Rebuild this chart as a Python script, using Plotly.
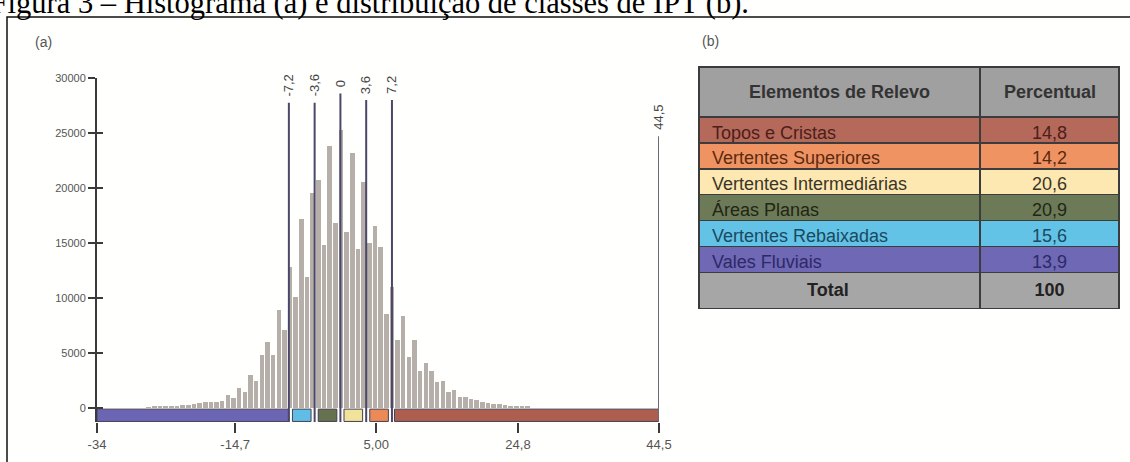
import plotly.graph_objects as go

W, H = 1130, 462

# ---------------- data ----------------
bin_first = -26.78      # centre of first histogram bin
bin_width = 0.79
counts = [50, 70, 90, 110, 140, 180, 220, 280, 330, 400, 480, 520, 560, 640,
          1200, 900, 1800, 1400, 3000, 2400, 4800, 6000, 4800, 8900, 7100,
          12800, 10100, 17200, 11900, 19500, 20700, 14800, 23800, 16800,
          25300, 16000, 23200, 14400, 20500, 15000, 16500, 14600, 8500, 11000,
          6200, 8300, 4600, 6200, 3300, 4100, 3300, 2300, 2400, 1450, 1600,
          1000, 1000, 800, 700, 550, 450, 350, 300, 270, 200, 150, 100, 70]

class_breaks = [-34, -7.2, -3.6, 0, 3.6, 7.2, 44.5]
class_names = ["Vales Fluviais", "Vertentes Rebaixadas", "Áreas Planas",
               "Vertentes Intermediárias", "Vertentes Superiores", "Topos e Cristas"]
class_colors = ["#6b65b3", "#5fbde6", "#65714f", "#f1e39c", "#ec8a57", "#ad5e4e"]

break_lines = [-7.2, -3.6, 0, 3.6, 7.2]
break_labels = ["-7,2", "-3,6", "0", "3,6", "7,2"]
break_tops = [27750, 27750, 28600, 28000, 28000]
max_line_x = 44.5
max_line_top = 24700
max_line_label = "44,5"

y_ticks = [0, 5000, 10000, 15000, 20000, 25000, 30000]
x_ticks = [-34, -14.7, 5.0, 24.8, 44.5]
x_tick_labels = ["-34", "-14,7", "5,00", "24,8", "44,5"]

table_header = ["Elementos de Relevo", "Percentual"]
table_names = ["Topos e Cristas", "Vertentes Superiores", "Vertentes Intermediárias",
               "Áreas Planas", "Vertentes Rebaixadas", "Vales Fluviais"]
table_percent = [14.8, 14.2, 20.6, 20.9, 15.6, 13.9]
table_total = 100
table_colors = ["#b5695b", "#f09363", "#fce8b0", "#6d7a57", "#62c3e6", "#6e68b5"]
table_text_colors = ["#4a2018", "#5a2a10", "#3a3528", "#1f2614", "#1c4860", "#2e2866"]

caption = "Figura 3 – Histograma (a) e distribuição de classes de IPT (b)."

# ---------------- helpers ----------------
def px_x(p):
    return p / W

def px_y(p):
    return 1 - p / H

FONT = "Arial, Liberation Sans, sans-serif"
AX = "#3a3a3a"

x_centers = [bin_first + i * bin_width for i in range(len(counts))]

fig = go.Figure()

fig.add_trace(go.Bar(
    x=x_centers, y=counts, width=bin_width * 0.8,
    marker=dict(color="#b6aea9", line=dict(width=0)),
    hoverinfo="x+y", showlegend=False,
))

# invisible trace for overlay axis (inside ticks)
fig.add_trace(go.Scatter(x=[-34], y=[0], yaxis="y2", mode="markers",
                         marker=dict(opacity=0), showlegend=False, hoverinfo="skip"))

# class band below the histogram
for i, col in enumerate(class_colors):
    x0, x1 = class_breaks[i], class_breaks[i + 1]
    if i == 0:
        a, b = x0, x1
    elif i == len(class_colors) - 1:
        a, b = x0 + 0.35, x1
    else:
        a, b = x0 + 0.5, x1 - 0.5
    fig.add_shape(type="rect", xref="x", yref="y", x0=a, x1=b, y0=-1250, y1=-130,
                  fillcolor=col, line=dict(color="#45414f", width=1), layer="above")

# break lines
for xv, top, lab in zip(break_lines, break_tops, break_labels):
    fig.add_shape(type="line", xref="x", yref="y", x0=xv, x1=xv, y0=-1300, y1=top,
                  line=dict(color="#4b4768", width=2), layer="above")
    fig.add_annotation(x=xv, y=top, xref="x", yref="y", text=lab, textangle=-90,
                       showarrow=False, yanchor="bottom", xanchor="center", yshift=4,
                       font=dict(family=FONT, size=13, color="#444"))

fig.add_shape(type="line", xref="x", yref="y", x0=max_line_x, x1=max_line_x,
              y0=-1300, y1=max_line_top, line=dict(color="#6e6a74", width=2), layer="above")
fig.add_annotation(x=max_line_x, y=max_line_top, xref="x", yref="y", text=max_line_label,
                   textangle=-90, showarrow=False, yanchor="bottom", xanchor="center",
                   yshift=4, font=dict(family=FONT, size=13, color="#444"))

# table (b)
tx0, tx1, t_top, head_h = 699, 1119, 67, 50
col_w = [281, 139]
fmt = [f"{v:.1f}".replace(".", ",") for v in table_percent]
gray = "#a6a6a6"
pad = "\u00a0"
total_label = pad * 20 + "<b>Total</b>"
fig.add_trace(go.Table(
    domain=dict(x=[px_x(tx0), px_x(tx1)], y=[0.05, px_y(t_top)]),
    columnwidth=col_w,
    header=dict(values=["", ""],
                fill_color="#a0a0a0", align="center", height=head_h,
                line=dict(color="#3c3c3c", width=1.5),
                font=dict(family=FONT, size=18, color="#333")),
    cells=dict(values=[[pad + n for n in table_names] + [total_label],
                       fmt + [f"<b>{table_total}</b>"]],
               fill_color=[table_colors + [gray], table_colors + [gray]],
               align=["left", "center"],
               height=25.9,
               line=dict(color="#3c3c3c", width=1.5),
               font=dict(family=FONT, size=18,
                         color=[table_text_colors + ["#222"], table_text_colors + ["#222"]])),
))
# header labels, vertically centred in the header band
cx = tx0
for h, w in zip(table_header, col_w):
    fig.add_annotation(xref="paper", yref="paper", x=px_x(cx + w / 2),
                       y=px_y(t_top + head_h / 2), xanchor="center", yanchor="middle",
                       showarrow=False, text="<b>" + h + "</b>",
                       font=dict(family=FONT, size=18, color="#333"))
    cx += w

# panel labels, border
fig.add_annotation(xref="paper", yref="paper", x=px_x(43), y=px_y(42), showarrow=False,
                   xanchor="center", yanchor="middle",
                   text="(a)", font=dict(family=FONT, size=14, color="#555"))
fig.add_annotation(xref="paper", yref="paper", x=px_x(710), y=px_y(41), showarrow=False,
                   xanchor="center", yanchor="middle",
                   text="(b)", font=dict(family=FONT, size=14, color="#555"))
fig.add_shape(type="rect", xref="paper", yref="paper", x0=px_x(7), x1=1.02,
              y0=-0.02, y1=px_y(17), line=dict(color="#111", width=1.5))

fig.update_layout(
    width=W, height=H,
    margin=dict(l=0, r=0, t=0, b=0, pad=0, autoexpand=False),
    title=dict(text=caption, xref="container", yref="container",
               x=px_x(749), xanchor="right", y=px_y(2), yanchor="middle",
               font=dict(family="Liberation Serif, Times New Roman, serif", size=30.5, color="#000")),
    paper_bgcolor="#fffffd", plot_bgcolor="rgba(0,0,0,0)",
    bargap=0, showlegend=False,
    xaxis=dict(domain=[px_x(97), px_x(659)], range=[-34, 44.5], showgrid=False,
               zeroline=False, showline=False, ticks="outside", ticklen=10, tickwidth=2,
               tickcolor=AX, tickvals=x_ticks, ticktext=x_tick_labels,
               tickfont=dict(family=FONT, size=13, color="#555")),
    yaxis=dict(domain=[px_y(422), px_y(78)], range=[-1300, 30000], showgrid=False,
               zeroline=False, showline=True, linecolor=AX, linewidth=2,
               ticks="outside", ticklen=7, tickwidth=2, tickcolor=AX,
               tickvals=y_ticks, ticktext=[str(v) for v in y_ticks],
               tickfont=dict(family=FONT, size=11, color="#555")),
    yaxis2=dict(overlaying="y", matches="y", anchor="x", side="left", showgrid=False,
                zeroline=False, showline=False, ticks="inside", ticklen=6, tickwidth=2,
                tickcolor=AX, tickvals=y_ticks, showticklabels=False),
)

fig.write_html("out.html", config={"displayModeBar": False},
               post_script="document.body.style.margin='0';document.body.style.padding='0';"
                           "document.body.style.overflow='hidden';")
